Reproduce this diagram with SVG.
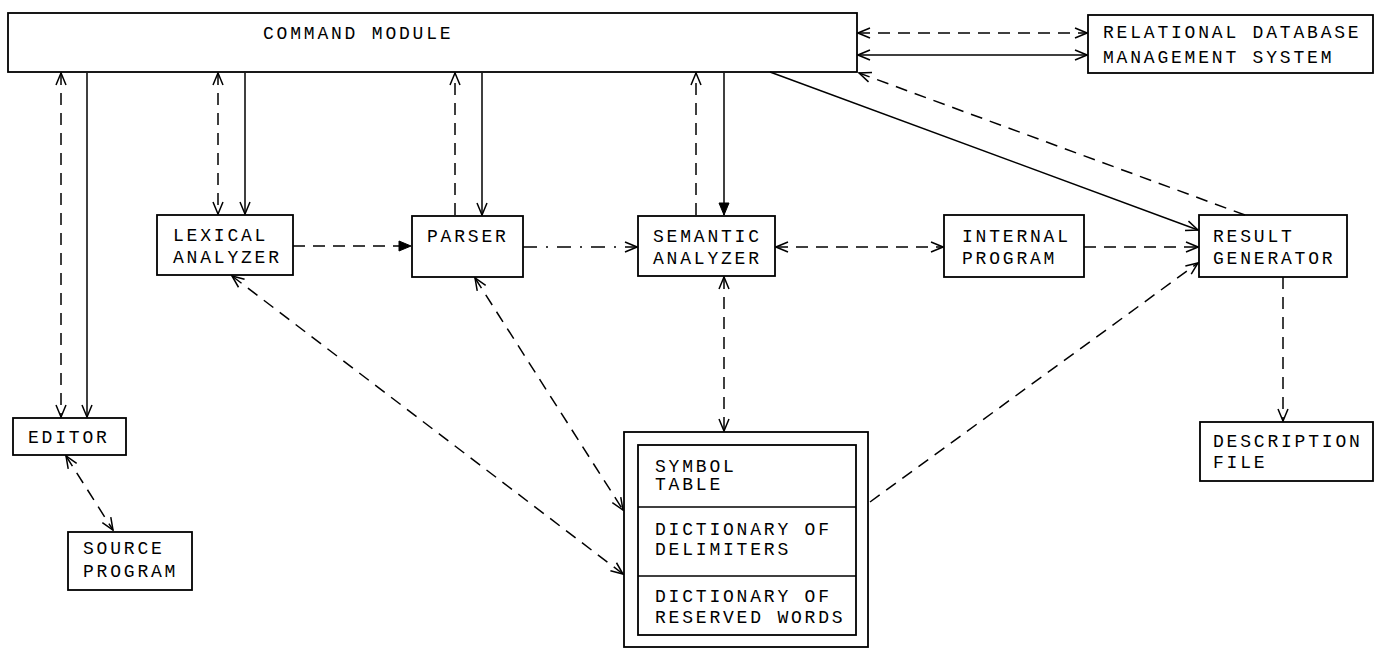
<svg xmlns="http://www.w3.org/2000/svg" width="1376" height="649" viewBox="0 0 1376 649">
<style>
.box{fill:#fff;stroke:#000;stroke-width:1.8}
.t{font-family:"Liberation Mono","DejaVu Sans Mono",monospace;font-size:18px;letter-spacing:2.8px;fill:#000}
.c{fill:none;stroke:#000;stroke-width:1.5}
.d{stroke-dasharray:12 8}
.dd{stroke-dasharray:14 9 2 9}
</style>
<defs>
<marker id="a" markerUnits="userSpaceOnUse" markerWidth="14" markerHeight="12" viewBox="0 0 14 12" refX="13" refY="6" orient="auto-start-reverse"><path d="M1,1 L13,6 L1,11" fill="none" stroke="#000" stroke-width="1.5" stroke-dasharray="none"/></marker>
<marker id="af" markerUnits="userSpaceOnUse" markerWidth="14" markerHeight="12" viewBox="0 0 14 12" refX="13" refY="6" orient="auto-start-reverse"><path d="M1,1 L13,6 L1,11 Z" fill="#000" stroke="#000" stroke-width="1" stroke-dasharray="none"/></marker>
</defs>
<g id="command-module"><rect class="box" x="8" y="13" width="849" height="59"/><text class="t" x="263" y="39">COMMAND MODULE</text></g>
<g id="rdbms"><rect class="box" x="1088" y="15" width="285" height="58"/><text class="t" x="1103" y="38">RELATIONAL DATABASE</text><text class="t" x="1103" y="63">MANAGEMENT SYSTEM</text></g>
<g id="lexical-analyzer"><rect class="box" x="157" y="215" width="136" height="60"/><text class="t" x="173" y="241">LEXICAL</text><text class="t" x="173" y="263">ANALYZER</text></g>
<g id="parser"><rect class="box" x="412" y="216" width="111" height="61"/><text class="t" x="427" y="242">PARSER</text></g>
<g id="semantic-analyzer"><rect class="box" x="638" y="216" width="137" height="60"/><text class="t" x="653" y="242">SEMANTIC</text><text class="t" x="653" y="264">ANALYZER</text></g>
<g id="internal-program"><rect class="box" x="944" y="215" width="140" height="62"/><text class="t" x="962" y="242">INTERNAL</text><text class="t" x="962" y="264">PROGRAM</text></g>
<g id="result-generator"><rect class="box" x="1199" y="215" width="148" height="62"/><text class="t" x="1213" y="242">RESULT</text><text class="t" x="1213" y="264">GENERATOR</text></g>
<g id="description-file"><rect class="box" x="1200" y="422" width="173" height="59"/><text class="t" x="1213" y="447">DESCRIPTION</text><text class="t" x="1213" y="468">FILE</text></g>
<g id="editor"><rect class="box" x="13" y="418" width="113" height="37"/><text class="t" x="28" y="443">EDITOR</text></g>
<g id="source-program"><rect class="box" x="68" y="532" width="124" height="58"/><text class="t" x="83" y="554">SOURCE</text><text class="t" x="83" y="577">PROGRAM</text></g>
<g id="dictionaries">
<rect class="box" x="624" y="432" width="244" height="215"/>
<rect class="box" x="638" y="445" width="218" height="190"/>
<line class="c" x1="638" y1="507" x2="856" y2="507"/>
<line class="c" x1="638" y1="576" x2="856" y2="576"/>
<text class="t" x="655" y="472">SYMBOL</text><text class="t" x="655" y="490">TABLE</text>
<text class="t" x="655" y="535">DICTIONARY OF</text><text class="t" x="655" y="555">DELIMITERS</text>
<text class="t" x="655" y="602">DICTIONARY OF</text><text class="t" x="655" y="623">RESERVED WORDS</text>
</g>
<g id="connectors">
<path class="c d" d="M61,73 L61,417" marker-start="url(#a)" marker-end="url(#a)"/>
<path class="c" d="M87,73 L87,417" marker-end="url(#a)"/>
<path class="c d" d="M218,73 L218,214" marker-start="url(#a)" marker-end="url(#a)"/>
<path class="c" d="M245,73 L245,214" marker-end="url(#a)"/>
<path class="c d" d="M455,215 L455,73" marker-end="url(#a)"/>
<path class="c" d="M482,73 L482,215" marker-end="url(#a)"/>
<path class="c d" d="M696,215 L696,73" marker-end="url(#a)"/>
<path class="c" d="M724,73 L724,215" marker-end="url(#af)"/>
<path class="c" d="M770,72 L1198,230" marker-end="url(#a)"/>
<path class="c d" d="M1245,215 L859,73" marker-end="url(#a)"/>
<path class="c d" d="M858,33 L1087,33" marker-start="url(#a)" marker-end="url(#a)"/>
<path class="c" d="M858,55 L1087,55" marker-start="url(#a)" marker-end="url(#a)"/>
<path class="c d" d="M293,246 L411,246" marker-end="url(#af)"/>
<path class="c dd" d="M523,247 L637,247" marker-end="url(#a)"/>
<path class="c d" d="M776,247 L943,247" marker-start="url(#a)" marker-end="url(#a)"/>
<path class="c d" d="M1084,247 L1198,247" marker-end="url(#a)"/>
<path class="c d" d="M870,502 L1198,263" marker-end="url(#a)"/>
<path class="c d" d="M724,277 L724,431" marker-start="url(#a)" marker-end="url(#a)"/>
<path class="c d" d="M232,276 L623,574" marker-start="url(#a)" marker-end="url(#a)"/>
<path class="c d" d="M475,278 L623,510" marker-start="url(#a)" marker-end="url(#a)"/>
<path class="c d" d="M66,456 L113,530" marker-start="url(#a)" marker-end="url(#a)"/>
<path class="c d" d="M1283,277 L1283,421" marker-end="url(#a)"/>
</g>
</svg>
